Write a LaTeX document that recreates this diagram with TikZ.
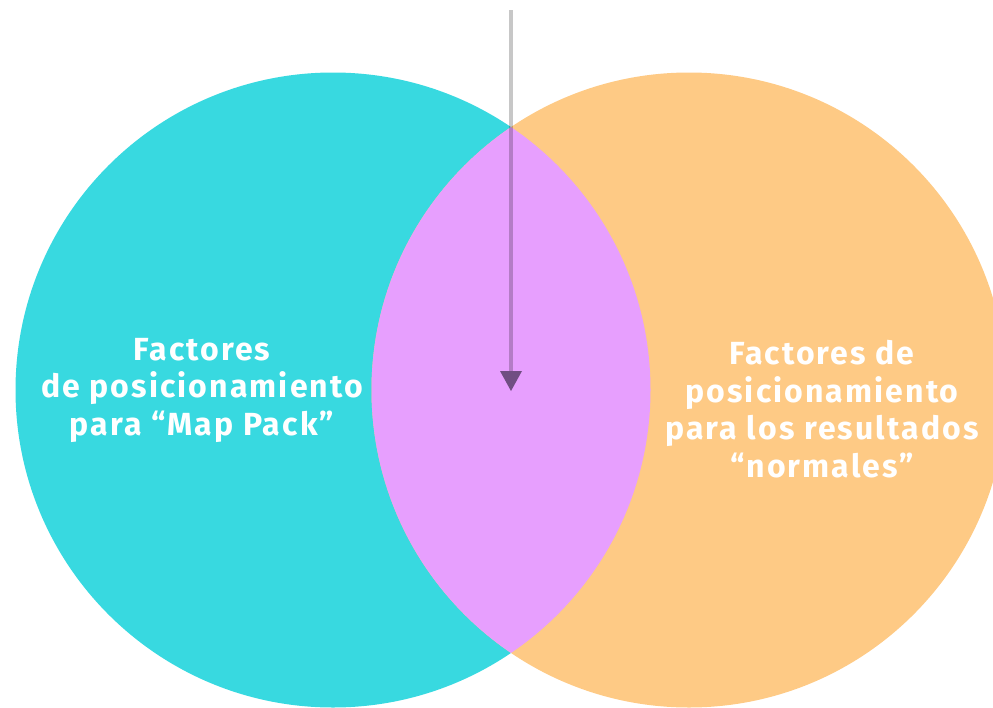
\documentclass[tikz,border=0pt]{standalone}
\usepackage{fontspec}
\setsansfont{Fira Sans}[LetterSpace=6.5]
\usepackage{tikz}
\usetikzlibrary{arrows.meta, positioning}
\definecolor{mapcyan}{RGB}{56,217,224}
\definecolor{organic}{RGB}{254,202,133}
\definecolor{overlap}{RGB}{231,159,254}
\definecolor{headpurple}{RGB}{112,78,130}

\begin{document}
\begin{tikzpicture}[x=1pt, y=-1pt,
    setfill/.style={circle, minimum size=635pt, inner sep=0pt},
    label/.style={align=center, text=white, font=\sffamily\bfseries\fontsize{32}{37.5}\selectfont},
    arrow/.style={draw=black, draw opacity=0.22, line width=3.5pt,
                  -{Triangle[width=22pt, length=20pt, fill=headpurple, line width=0pt]}}]

    \useasboundingbox (0,0) rectangle (993,707);

    % the two sets
    \node[setfill, fill=mapcyan] (mappack) at (333,390) {};
    \node[setfill, fill=organic] (normal) at (689,390) {};

    % overlap of both sets
    \begin{scope}
        \clip (mappack.center) circle[radius=317.5pt];
        \fill[overlap] (normal.center) circle[radius=317.5pt];
    \end{scope}

    \node[label] (maptext) at (202,390) {Factores\\de posicionamiento\\para “Map Pack”};
    \node[label] (normaltext) at (822,409) {Factores de\\posicionamiento\\para los resultados\\“normales”};

    \coordinate (start) at (511,10);
    \coordinate (tip) at (511,391);
    \draw[arrow] (start) -- (tip);
\end{tikzpicture}
\end{document}
